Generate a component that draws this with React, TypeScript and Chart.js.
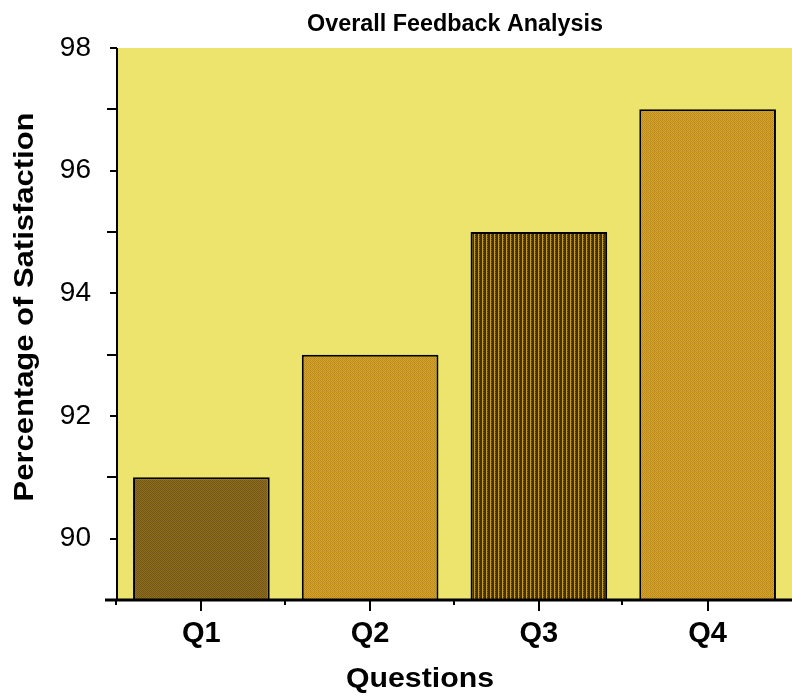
import React, { useEffect, useRef } from "react";
import { Chart, registerables } from "chart.js";

Chart.register(...registerables);

const categories = ["Q1", "Q2", "Q3", "Q4"];
const satisfaction = [91, 93, 95, 97];
const yMin = 89;
const yMax = 98;
const chartTitle = "Overall Feedback Analysis";
const xTitle = "Questions";
const yTitle = "Percentage of Satisfaction";

const BG = "#ece46c";
const FONT = "'Liberation Sans', Arial, sans-serif";

function makePattern(kind: string): CanvasPattern | string {
  const c = document.createElement("canvas");
  const ctx = c.getContext("2d");
  if (!ctx) return "#b08a20";
  if (kind === "q1") {
    c.width = 2; c.height = 2;
    ctx.fillStyle = "#8e6e1c"; ctx.fillRect(0, 0, 2, 2);
    ctx.fillStyle = "#735819"; ctx.fillRect(0, 0, 1, 1); ctx.fillRect(1, 1, 1, 1);
  } else if (kind === "q3") {
    c.width = 4; c.height = 2;
    ctx.fillStyle = "#3f310c"; ctx.fillRect(0, 0, 4, 2);
    ctx.fillStyle = "#c89c22"; ctx.fillRect(2, 0, 1, 2);
    ctx.fillStyle = "#7d6219"; ctx.fillRect(3, 0, 1, 1);
  } else {
    c.width = 4; c.height = 4;
    ctx.fillStyle = "#d9a21a"; ctx.fillRect(0, 0, 4, 4);
    ctx.fillStyle = "#b88c28";
    ctx.fillRect(0, 0, 1, 1); ctx.fillRect(2, 0, 1, 1);
    ctx.fillRect(1, 1, 1, 1); ctx.fillRect(3, 1, 1, 1);
    ctx.fillRect(0, 2, 1, 1); ctx.fillRect(2, 2, 1, 1);
    ctx.fillStyle = "#c4942a"; ctx.fillRect(1, 3, 3, 1);
  }
  const p = ctx.createPattern(c, "repeat");
  return p || "#b08a20";
}

function stretchedText(ctx: CanvasRenderingContext2D, text: string, x: number, y: number, targetWidth: number, rotate: boolean) {
  ctx.save();
  ctx.translate(x, y);
  if (rotate) ctx.rotate(-Math.PI / 2);
  const w = ctx.measureText(text).width;
  ctx.scale(targetWidth / w, 1);
  ctx.fillText(text, 0, 0);
  ctx.restore();
}

const decorPlugin = {
  id: "decor",
  beforeDraw(chart: any) {
    const { ctx, chartArea } = chart;
    ctx.save();
    ctx.fillStyle = BG;
    ctx.fillRect(chartArea.left, chartArea.top, chartArea.right - chartArea.left, chartArea.bottom - chartArea.top);
    ctx.restore();
  },
  afterDraw(chart: any) {
    const { ctx, chartArea, scales } = chart;
    const x = scales.x;
    const y = scales.y;
    ctx.save();
    ctx.strokeStyle = "#000";
    ctx.lineWidth = 2;
    // axis lines
    ctx.beginPath();
    ctx.moveTo(chartArea.left, chartArea.top);
    ctx.lineTo(chartArea.left, chartArea.bottom);
    ctx.stroke();
    ctx.lineWidth = 3;
    ctx.beginPath();
    ctx.moveTo(chartArea.left - 12, chartArea.bottom);
    ctx.lineTo(chartArea.right, chartArea.bottom);
    ctx.stroke();
    ctx.lineWidth = 2;
    // y ticks
    for (let v = yMin + 1; v <= yMax; v++) {
      const py = Math.round(y.getPixelForValue(v));
      const len = v % 2 === 0 ? 7 : 10;
      ctx.beginPath();
      ctx.moveTo(chartArea.left - len, py);
      ctx.lineTo(chartArea.left, py);
      ctx.stroke();
    }
    // x ticks
    const n = categories.length;
    const step = (chartArea.right - chartArea.left) / n;
    for (let i = 0; i < n; i++) {
      const cx = Math.round(x.getPixelForValue(i));
      ctx.beginPath();
      ctx.moveTo(cx, chartArea.bottom);
      ctx.lineTo(cx, chartArea.bottom + 11);
      ctx.stroke();
      const bx = Math.round(x.getPixelForValue(i) - step / 2) - 1;
      ctx.beginPath();
      ctx.moveTo(bx, chartArea.bottom);
      ctx.lineTo(bx, chartArea.bottom + 5);
      ctx.stroke();
    }
    // titles
    ctx.fillStyle = "#000";
    ctx.textAlign = "center";
    ctx.textBaseline = "middle";
    ctx.font = "bold 23px " + FONT;
    stretchedText(ctx, chartTitle, 455, 25, 296, false);
    ctx.font = "bold 28px " + FONT;
    stretchedText(ctx, xTitle, 420, 679, 148, false);
    stretchedText(ctx, yTitle, 25, 307, 389, true);
    ctx.restore();
  },
};

export default function App() {
  const ref = useRef<HTMLCanvasElement | null>(null);
  useEffect(() => {
    if (!ref.current) return;
    const colors = [makePattern("q1"), makePattern("q2"), makePattern("q3"), makePattern("q4")];
    const chart = new Chart(ref.current, {
      type: "bar",
      data: {
        labels: categories,
        datasets: [
          {
            data: satisfaction,
            backgroundColor: colors as any,
            borderColor: "#000",
            borderWidth: 2,
            borderSkipped: "bottom",
            categoryPercentage: 1,
            barPercentage: 0.81,
          },
        ],
      },
      options: {
        animation: false,
        responsive: false,
        layout: { padding: { top: 48, right: 0, left: 0, bottom: 0 } },
        plugins: { legend: { display: false }, tooltip: { enabled: false }, title: { display: false } },
        scales: {
          x: {
            grid: { display: false, drawTicks: false },
            border: { display: false },
            ticks: {
              color: "#000",
              padding: 17,
              font: { family: FONT, size: 29, weight: "bold" },
            },
            afterFit: (s: any) => { s.height = 100; },
          },
          y: {
            min: yMin,
            max: yMax,
            grid: { display: false, drawTicks: false },
            border: { display: false },
            ticks: {
              stepSize: 1,
              color: "#000",
              padding: 26,
              font: { family: FONT, size: 28 },
              callback: (v: any) => (Number(v) % 2 === 0 ? String(v) : ""),
            },
            afterFit: (s: any) => { s.width = 117; },
          },
        },
      },
      plugins: [decorPlugin],
    });
    return () => chart.destroy();
  }, []);
  return (
    <div style={{ position: "absolute", left: 0, top: 0, width: 792, height: 700, background: "#fff" }}>
      <canvas ref={ref} width={792} height={700} style={{ width: 792, height: 700, display: "block" }} />
    </div>
  );
}
